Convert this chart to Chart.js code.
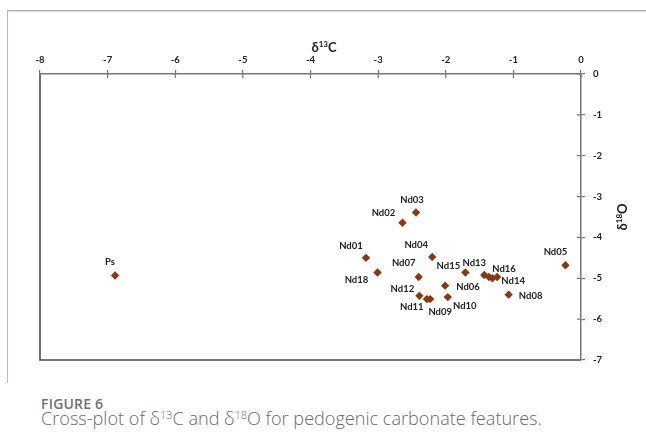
<!DOCTYPE html>
<html>
<head>
<meta charset="utf-8">
<script src="https://cdn.jsdelivr.net/npm/chart.js@4.4.1/dist/chart.umd.min.js"></script>
<style>
  html, body { margin: 0; padding: 0; background: #fff; width: 646px; height: 448px; overflow: hidden; }
  #frame { position: absolute; left: 7px; top: 10px; width: 660px; height: 372px;
           border-top: 1px solid #aaa; border-left: 1px solid #bbb; box-shadow: inset 0 1px 1px #ddd; }
  #wrap { position: absolute; left: 0; top: 0; width: 646px; height: 380px; }
  #cap1 { position: absolute; left: 41px; top: 394px; font-family: "Open Sans", sans-serif; font-size: 14px;
          font-weight: 600; color: #707070; letter-spacing: 0.2px; }
  #cap2 { position: absolute; left: 41px; top: 406px; font-family: "Open Sans", sans-serif; font-size: 18.1px;
          font-weight: 300; color: #6a6a6a; white-space: nowrap; }
  sup { font-size: 0.6em; vertical-align: 0.55em; line-height: 0; }
</style>
</head>
<body>
<div id="frame"></div>
<div id="wrap"><canvas id="c" width="646" height="380"></canvas></div>
<div id="cap1">FIGURE 6</div>
<div id="cap2">Cross-plot of δ<sup>13</sup>C and δ<sup>18</sup>O for pedogenic carbonate features.</div>
<script>
// ---- data ----
const sampleNames = ['Ps','Nd01','Nd02','Nd03','Nd04','Nd05','Nd06','Nd07','Nd08','Nd09','Nd10','Nd11','Nd12','Nd13','Nd14','Nd15','Nd16','Nd17','Nd18'];
const d13C = [-6.89,-3.18,-2.64,-2.44,-2.20,-0.23,-2.01,-2.40,-1.07,-2.23,-1.97,-2.28,-2.39,-1.43,-1.24,-1.71,-1.36,-1.31,-3.01];
const d18O = [-4.93,-4.50,-3.64,-3.39,-4.48,-4.68,-5.18,-4.97,-5.40,-5.51,-5.46,-5.51,-5.43,-4.92,-4.97,-4.86,-4.97,-5.00,-4.86];
const xTicks = [-8,-7,-6,-5,-4,-3,-2,-1,0];
const yTicks = [0,-1,-2,-3,-4,-5,-6,-7];
const xTitleParts = ['δ','13','C'];
const yTitleParts = ['δ','18','O'];

// ---- label placement (style, not data) ----
const labelOffset = {
  Ps:[-5,-13], Nd01:[-15,-12], Nd02:[-19,-10], Nd03:[-4,-13], Nd04:[-16,-12], Nd05:[-10,-13],
  Nd06:[23,1], Nd07:[-15,-14], Nd08:[22,1], Nd09:[10,13], Nd10:[17,9], Nd11:[-15,8], Nd12:[-17,-7],
  Nd13:[-10,-12], Nd14:[16,4], Nd15:[-17,-7], Nd16:[15,-8], Nd18:[-21,7]
};

const FONT = 'Lato, "Open Sans", sans-serif';
const TXT = '#222';

function drawSup(ctx, parts, cx, cy, size) {
  const big = 'bold ' + size + 'px ' + FONT;
  const small = 'bold ' + Math.round(size * 0.62) + 'px ' + FONT;
  ctx.font = big; const w0 = ctx.measureText(parts[0]).width;
  const w2 = ctx.measureText(parts[2]).width;
  ctx.font = small; const w1 = ctx.measureText(parts[1]).width;
  let x = cx - (w0 + w1 + w2) / 2;
  ctx.textAlign = 'left'; ctx.textBaseline = 'alphabetic';
  const base = cy + size * 0.36;
  ctx.font = big; ctx.fillText(parts[0], x, base); x += w0;
  ctx.font = small; ctx.fillText(parts[1], x, base - size * 0.38); x += w1;
  ctx.font = big; ctx.fillText(parts[2], x, base);
}

const extras = {
  id: 'extras',
  beforeDatasetsDraw(chart) {
    const {ctx, chartArea: a, scales} = chart;
    ctx.save();
    ctx.strokeStyle = '#4a4a4a'; ctx.lineWidth = 1.6;
    ctx.beginPath();
    ctx.moveTo(a.left, a.top); ctx.lineTo(a.left, a.bottom); ctx.lineTo(a.right, a.bottom);
    ctx.stroke();
    ctx.strokeStyle = '#777'; ctx.lineWidth = 1.2;
    ctx.beginPath();
    scales.x.ticks.forEach((t, i) => { const px = scales.x.getPixelForTick(i); ctx.moveTo(px, a.top); ctx.lineTo(px, a.top + 4); });
    scales.y.ticks.forEach((t, i) => { const py = scales.y.getPixelForTick(i); ctx.moveTo(a.right - 4, py); ctx.lineTo(a.right, py); });
    ctx.stroke();
    ctx.restore();
  },
  afterDatasetsDraw(chart) {
    const {ctx, chartArea: a} = chart;
    ctx.save();
    ctx.fillStyle = TXT;
    ctx.font = 'bold 9.5px ' + FONT;
    ctx.textAlign = 'center'; ctx.textBaseline = 'middle';
    chart.getDatasetMeta(0).data.forEach((el, i) => {
      const off = labelOffset[sampleNames[i]];
      if (!off) return;
      ctx.fillText(sampleNames[i], el.x + off[0], el.y + off[1]);
    });
    drawSup(ctx, xTitleParts, 324, 47, 13);
    ctx.translate(622, (a.top + a.bottom) / 2);
    ctx.rotate(-Math.PI / 2);
    drawSup(ctx, yTitleParts, 0, 0, 13);
    ctx.restore();
  }
};

new Chart(document.getElementById('c'), {
  type: 'scatter',
  data: {
    datasets: [{
      data: d13C.map((x, i) => ({x, y: d18O[i]})),
      pointStyle: 'rectRot',
      pointRadius: 4.2,
      pointHoverRadius: 4.2,
      backgroundColor: '#8a3812',
      borderColor: '#8a3812',
      borderWidth: 0
    }]
  },
  options: {
    responsive: false,
    animation: false,
    events: [],
    layout: { padding: { left: 40, right: 0, top: 30, bottom: 20 } },
    plugins: { legend: { display: false }, tooltip: { enabled: false } },
    scales: {
      x: {
        type: 'linear', position: 'top', min: -8, max: 0,
        afterBuildTicks: s => { s.ticks = xTicks.map(v => ({value: v})); },
        afterFit: s => { s.height = 44; },
        border: { color: '#777', width: 1.5 },
        grid: { drawOnChartArea: false, tickLength: 4, color: '#777', lineWidth: 1.2 },
        ticks: { color: TXT, font: { family: FONT, size: 9.5, weight: 'bold' }, padding: 4, maxRotation: 0 }
      },
      y: {
        type: 'linear', position: 'right', min: -7, max: 0,
        afterBuildTicks: s => { s.ticks = yTicks.map(v => ({value: v})); },
        afterFit: s => { s.width = 65; },
        border: { color: '#777', width: 1.5 },
        grid: { drawOnChartArea: false, tickLength: 4, color: '#777', lineWidth: 1.2 },
        ticks: { color: TXT, font: { family: FONT, size: 9.5, weight: 'bold' }, padding: 8 }
      }
    }
  },
  plugins: [extras]
});
</script>
</body>
</html>
